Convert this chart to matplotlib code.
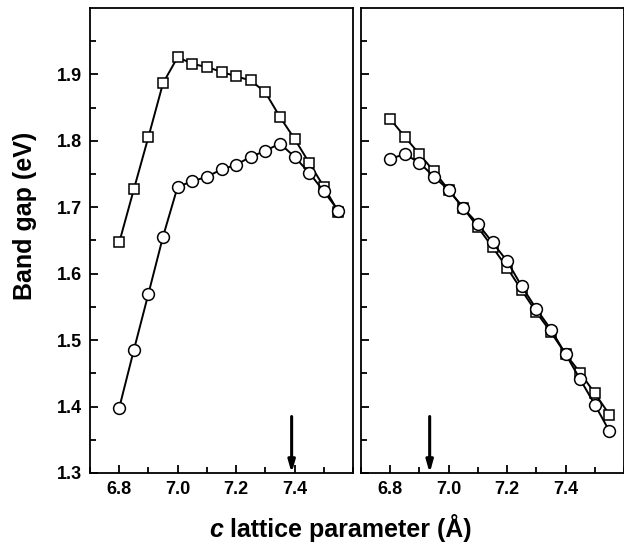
import numpy as np
import matplotlib.pyplot as plt

plt.rcParams['font.family'] = ['Liberation Sans', 'DejaVu Sans']

# c lattice parameter (Angstrom)
c_param = [6.80, 6.85, 6.90, 6.95, 7.00, 7.05, 7.10, 7.15,
           7.20, 7.25, 7.30, 7.35, 7.40, 7.45, 7.50, 7.55]

# left panel
left_sq = [1.647, 1.727, 1.806, 1.887, 1.926, 1.916, 1.911, 1.904,
           1.897, 1.891, 1.873, 1.836, 1.803, 1.767, 1.731, 1.693]
left_ci = [1.398, 1.485, 1.570, 1.656, 1.731, 1.739, 1.746, 1.757,
           1.764, 1.776, 1.785, 1.796, 1.776, 1.752, 1.724, 1.695]

# right panel
right_sq = [1.833, 1.806, 1.780, 1.754, 1.726, 1.699, 1.670, 1.640,
            1.609, 1.575, 1.542, 1.512, 1.479, 1.451, 1.420, 1.388]
right_ci = [1.773, 1.780, 1.767, 1.746, 1.726, 1.699, 1.675, 1.647,
            1.619, 1.581, 1.547, 1.516, 1.479, 1.441, 1.403, 1.363]

arrow_x = [7.39, 6.935]

xticks = [6.8, 7.0, 7.2, 7.4]
yticks = [1.3, 1.4, 1.5, 1.6, 1.7, 1.8, 1.9]

fig = plt.figure(figsize=(6.24, 5.45), dpi=100)
W, H = 624, 545
ax1 = fig.add_axes([90 / W, (H - 473) / H, 263 / W, 465 / H])
ax2 = fig.add_axes([361 / W, (H - 473) / H, 263 / W, 465 / H])

mk = dict(color='black', lw=1.4, mfc='white', mec='black', mew=1.1)
ax1.plot(c_param, left_sq, marker='s', ms=7.5, **mk)
ax1.plot(c_param, left_ci, marker='o', ms=8.5, **mk)
ax2.plot(c_param, right_sq, marker='s', ms=7.5, **mk)
ax2.plot(c_param, right_ci, marker='o', ms=8.5, **mk)

for ax, ax_x in zip([ax1, ax2], arrow_x):
    ax.set_xlim(6.7, 7.6)
    ax.set_ylim(1.3, 2.0)
    ax.set_xticks(xticks)
    ax.set_xticks(np.arange(6.7, 7.61, 0.1), minor=True)
    ax.set_yticks(yticks)
    ax.set_yticks(np.arange(1.35, 2.0, 0.1), minor=True)
    ax.tick_params(which='both', direction='in', width=1.3,
                   labelsize=13, pad=6)
    ax.tick_params(which='major', length=6)
    ax.tick_params(which='minor', length=4)
    for lbl in ax.get_xticklabels() + ax.get_yticklabels():
        lbl.set_fontweight('bold')
    for s in ax.spines.values():
        s.set_linewidth(1.3)
    # arrow marking the reference lattice parameter
    ax.annotate('', xy=(ax_x, 1.3), xytext=(ax_x, 1.385),
                arrowprops=dict(arrowstyle='-|>,head_length=0.7,head_width=0.2',
                                color='black', lw=2.2, shrinkA=0, shrinkB=0))

ax2.tick_params(labelleft=False)

fig.text(25 / W, 1 - 216 / H, 'Band gap (eV)', rotation=90, ha='center',
         va='center', fontsize=18, fontweight='bold')
# x label: italic "c" followed by upright text
tc = fig.text(209 / W, 1 - 537 / H, 'c', ha='left', va='baseline',
              fontsize=18, fontweight='bold', fontstyle='italic')
fig.add_artist(plt.Annotation(' lattice parameter (Å)', xy=(1, 0), xycoords=tc,
                              ha='left', va='bottom', fontsize=18,
                              fontweight='bold', annotation_clip=False))

fig.savefig('out.png', dpi=100)
